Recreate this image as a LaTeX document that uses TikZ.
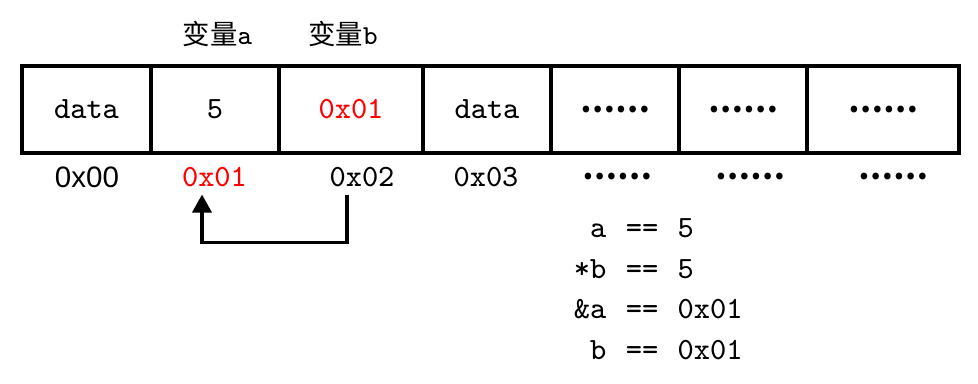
\documentclass[tikz,border=0pt]{standalone}
\usepackage{fontspec}
\usetikzlibrary{arrows.meta}
\newfontfamily\cjkfont{Noto Sans CJK SC}
\newfontfamily\addrfont{Liberation Sans}

\begin{document}
\begin{tikzpicture}[
    every node/.style={font=\ttfamily\fontsize{8.8}{10.5}\selectfont},
    cell/.style={draw, line width=1pt, minimum height=0.87cm, inner sep=0pt},
    addr/.style={inner sep=2pt},
    dots/.style={font=\cjkfont\bfseries\fontsize{8.8}{10.5}\selectfont},
    varname/.style={font=\ttfamily\fontsize{7.8}{9}\selectfont},
    eqtext/.style={inner sep=0pt, anchor=base},
    ptr/.style={line width=1pt, -{Triangle[width=0.19cm,length=0.18cm]}}
  ]
  \useasboundingbox (0,0) rectangle (9.78,3.84);
  % 变量名
  \node[varname] (va) at (2.175,3.505) {{\cjkfont 变量}a};
  \node[varname] (vb) at (3.43,3.505) {{\cjkfont 变量}b};
  % 内存单元
  \node[cell, minimum width=1.29cm] (c1) at (0.865,2.745) {data};
  \node[cell, minimum width=1.28cm] (c2) at (2.15,2.745) {5};
  \node[cell, minimum width=1.44cm, text=red] (c3) at (3.51,2.745) {0x01};
  \node[cell, minimum width=1.28cm] (c4) at (4.87,2.745) {data};
  \node[cell, minimum width=1.28cm, dots] (c5) at (6.15,2.745) {……};
  \node[cell, minimum width=1.28cm, dots] (c6) at (7.43,2.745) {……};
  \node[cell, minimum width=1.52cm, dots] (c7) at (8.83,2.745) {……};
  % 地址
  \node[addr, font=\addrfont\fontsize{8.4}{10}\selectfont] (a00) at (0.87,2.07) {0x00};
  \node[addr, text=red] (a01) at (2.145,2.07) {0x01};
  \node[addr] (a02) at (3.62,2.07) {0x02};
  \node[addr] (a03) at (4.86,2.07) {0x03};
  \node[addr, dots] (a04) at (6.17,2.07) {……};
  \node[addr, dots] (a05) at (7.50,2.07) {……};
  \node[addr, dots] (a06) at (8.93,2.07) {……};
  % b指向a
  \draw[ptr] ([xshift=-0.15cm]a02.south) -- ++(0,-0.48) -| ([xshift=-0.125cm]a01.south);
  % 等式
  \foreach \lhs/\rhs [count=\i] in {a/5, *b/5, \&a/0x01, b/0x01}{
    \node[eqtext, anchor=base east] (lhs\i) at (6.07,1.865-0.405*\i) {\lhs};
    \node[eqtext] (eq\i) at (6.42,1.865-0.405*\i) {==};
    \node[eqtext, anchor=base west] (rhs\i) at (6.77,1.865-0.405*\i) {\rhs};
  }
\end{tikzpicture}
\end{document}
